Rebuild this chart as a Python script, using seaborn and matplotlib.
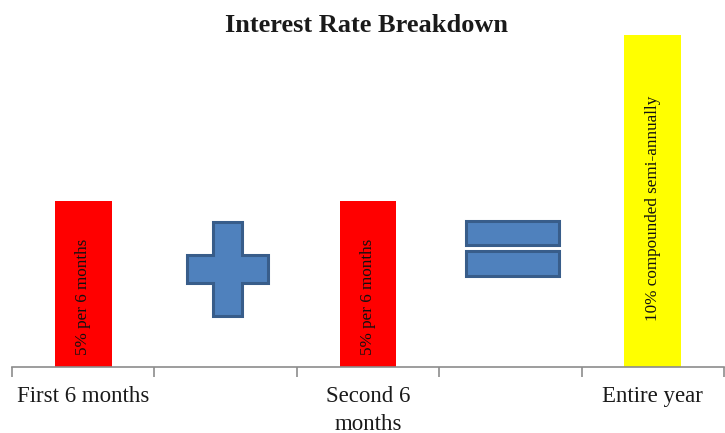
import matplotlib
matplotlib.use("Agg")
import matplotlib.pyplot as plt
import seaborn as sns
import pandas as pd
import numpy as np
from matplotlib.patches import Rectangle, Polygon

# Data
slots = ["First 6 months", "plus", "Second 6 months", "equals", "Entire year"]
tick_labels = ["First 6 months", "", "Second 6\nmonths", "", "Entire year"]
bar_categories = ["First 6 months", "Second 6 months", "Entire year"]
bar_values = [5, 5, 10]
bar_colors = ["#FF0000", "#FF0000", "#FFFF00"]
bar_texts = ["5% per 6 months", "5% per 6 months", "10% compounded semi-annually"]
title = "Interest Rate Breakdown"

sns.set_theme(style="white")
plt.rcParams["font.family"] = ["Liberation Serif", "DejaVu Serif"]

fig = plt.figure(figsize=(7.25, 4.33), dpi=100)
ax = fig.add_axes([12/725, 1-367/433, 712/725, (367-35)/433])

df = pd.DataFrame({"slot": bar_categories, "rate": bar_values})
sns.barplot(data=df, x="slot", y="rate", order=slots, hue="slot",
            hue_order=bar_categories, palette=bar_colors, width=0.4,
            legend=False, ax=ax, saturation=1, edgecolor="none")

ax.set_xlim(-0.5, len(slots) - 0.5)
ax.set_ylim(0, 10)
ax.set_xlabel("")
ax.set_ylabel("")
ax.set_yticks([])
for s in ["top", "right", "left"]:
    ax.spines[s].set_visible(False)
ax.spines["bottom"].set_color("#8C8C8C")
ax.spines["bottom"].set_linewidth(1.2)

ax.set_xticks(range(len(slots)))
ax.set_xticklabels(tick_labels, fontsize=16.5, color="#1a1a1a", linespacing=1.38)
ax.tick_params(axis="x", which="major", length=0, pad=14)
ax.set_xticks(np.arange(-0.5, len(slots), 1), minor=True)
ax.tick_params(axis="x", which="minor", length=7, width=1.2, color="#8C8C8C",
               bottom=True)

# labels inside bars (slightly below bar centre, as in the reference)
offsets = [-0.4, -0.4, -0.23]
for cat, v, t, off in zip(bar_categories, bar_values, bar_texts, offsets):
    xi = slots.index(cat)
    ax.text(xi, v / 2 + off, t, rotation=90, ha="center", va="center",
            fontsize=12.3, color="#111111")

# plus sign
fill = "#4F81BD"
edge = "#385D8A"
plus = Polygon([(0.910, 4.37), (1.113, 4.37), (1.113, 3.37), (1.295, 3.37),
                (1.295, 2.53), (1.113, 2.53), (1.113, 1.54), (0.910, 1.54),
                (0.910, 2.53), (0.727, 2.53), (0.727, 3.37), (0.910, 3.37)],
               closed=True, facecolor=fill, edgecolor=edge, linewidth=2.2,
               zorder=3)
ax.add_patch(plus)
# equals sign
ax.add_patch(Rectangle((2.691, 3.67), 0.652, 0.73, facecolor=fill,
                       edgecolor=edge, linewidth=2.2, zorder=3))
ax.add_patch(Rectangle((2.691, 2.74), 0.652, 0.75, facecolor=fill,
                       edgecolor=edge, linewidth=2.2, zorder=3))

fig.text(366/725, 1-26/433, title, ha="center", va="center",
         fontsize=19, fontweight="bold", color="#1a1a1a")

fig.savefig("out.png", dpi=100, facecolor="white")
